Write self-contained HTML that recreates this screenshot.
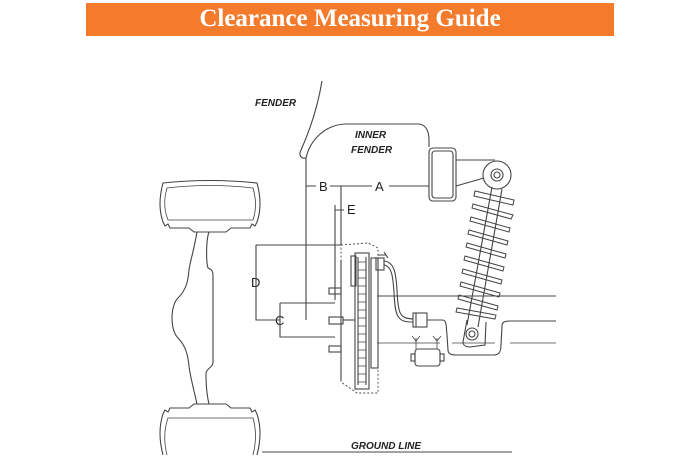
<!DOCTYPE html>
<html><head><meta charset="utf-8"><style>
html,body{margin:0;padding:0;background:#fff;}
body{width:688px;height:459px;overflow:hidden;position:relative;}
.bar{position:absolute;left:86px;top:3px;width:528px;height:33px;background:#f47a2c;color:#fff;font-family:"Liberation Serif",serif;font-weight:bold;font-size:25px;text-align:center;line-height:32px;}
svg{position:absolute;left:0;top:0;}
text{font-family:"Liberation Sans",sans-serif;fill:#222;}
</style></head><body>
<div class="bar">Clearance Measuring Guide</div>
<svg width="688" height="459" viewBox="0 0 688 459" fill="none" stroke="#444" stroke-width="1.1">
<text x="255" y="106" font-size="10" font-style="italic" font-weight="bold" stroke="none">FENDER</text>
<text x="355" y="138" font-size="10" font-style="italic" font-weight="bold" stroke="none">INNER</text>
<text x="351" y="153" font-size="10" font-style="italic" font-weight="bold" stroke="none">FENDER</text>
<text x="351" y="449" font-size="10" font-style="italic" font-weight="bold" stroke="none">GROUND LINE</text>
<text x="319" y="191" font-size="13" stroke="none">B</text>
<text x="375" y="191" font-size="13" stroke="none">A</text>
<text x="347" y="214" font-size="13" stroke="none">E</text>
<text x="251" y="287" font-size="13" stroke="none">D</text>
<text x="275" y="325" font-size="13" stroke="none">C</text>
<path d="M322 81 C318 105 310 130 301 150 C298 156 302 159 306 158"/>
<path d="M306 158 L306 320 M306 158 C310 140 325 125 345 124 L418 124 C425 124 429 130 429 140 L429 147"/>
<path d="M306 186 L316 186 M330 186 L372 186 M389 186 L429 186"/>
<path d="M341 186 L341 245"/>
<path d="M335 205 L335 300 M335 210 L344 210"/>
<rect x="429" y="148" width="27" height="53" rx="4"/>
<rect x="432" y="151" width="21" height="47" rx="3"/>
<path d="M456 160 L495 160 M456 186 L484 178"/>
<circle cx="497" cy="175" r="14"/>
<circle cx="497" cy="175" r="6"/><circle cx="497" cy="175" r="3"/>
<path d="M492 187 L467 325 M502 189 L478 327"/>
<g stroke-width="1">
<path d="M474 196 L513 205 L514 200 L475 191 Z"/>
<path d="M472 208 L511 219 L513 215 L473 204 Z"/>
<path d="M470 221 L509 232 L510 228 L471 217 Z"/>
<path d="M468 234 L507 245 L508 241 L469 230 Z"/>
<path d="M466 247 L505 258 L506 254 L467 243 Z"/>
<path d="M464 260 L503 271 L504 267 L465 256 Z"/>
<path d="M462 273 L501 284 L502 280 L463 269 Z"/>
<path d="M460 286 L499 297 L500 293 L461 282 Z"/>
<path d="M458 299 L497 310 L498 306 L459 295 Z"/>
<path d="M456 312 L495 319 L496 315 L457 308 Z"/>
</g>
<path d="M467 320 L463 342 C463 346 467 347 470 347 L485 345 L486 322"/>
<circle cx="472" cy="334" r="6"/><circle cx="472" cy="334" r="3"/>
<path d="M377 296 L556 296"/>
<path d="M427 320 L442 320 C447 320 446 326 447 335 L448 350 C448 354 452 355 456 355 L494 355 C500 355 501 350 501 345 L502 326 C502 322 505 321 510 321 L556 321"/>
<path d="M377 343 L440 343 M452 343 L495 343 M510 343 L556 343" stroke-width="0.8"/>
<path d="M341 245 L368 243 L378 248 L378 393 L357 393 L341 382 Z" stroke-dasharray="2 2" stroke-width="0.9"/>
<path d="M341 260 L341 380"/>
<rect x="355" y="253" width="14" height="136"/>
<path d="M358 257 L358 385 M366 257 L366 385"/>
<g stroke-width="0.7">
<path d="M358 262 h8 M358 270 h8 M358 278 h8 M358 286 h8 M358 294 h8 M358 302 h8 M358 310 h8 M358 318 h8 M358 326 h8 M358 334 h8 M358 342 h8 M358 350 h8 M358 358 h8 M358 366 h8 M358 374 h8 M358 382 h8"/>
</g>
<rect x="371" y="258" width="7" height="110"/>
<rect x="351" y="256" width="5" height="30"/>
<rect x="376" y="258" width="8" height="12"/>
<path d="M378 255 L386 255 M384 252 L388 258"/>
<rect x="329" y="288" width="12" height="6"/>
<rect x="329" y="317" width="14" height="7"/>
<rect x="329" y="346" width="12" height="6"/>
<path d="M343 320 L355 320"/>
<path d="M384 261 C395 262 396 275 397 290 C398 315 400 318 413 319 M384 265 C392 266 393 278 394 292 C395 318 398 322 413 322"/>
<rect x="413" y="313" width="14" height="14"/>
<path d="M416 313 L416 327"/>
<rect x="415" y="349" width="25" height="17" rx="3"/>
<rect x="411" y="354" width="4" height="7"/><rect x="440" y="354" width="4" height="7"/>
<path d="M416 338 L416 349 M437 338 L437 349 M412 336 L416 341 L420 336 M433 336 L437 341 L441 336" stroke-width="0.8"/>
<path d="M256 245 L341 245 M256 245 L256 320 L280 320"/>
<path d="M280 303 L335 303 M280 303 L280 337 L335 337"/>
<path d="M163 183 Q210 178 257 183 Q263 205 257 222 L255 226 L252 224 L250 228 L231 228 L226 232 L194 232 L189 228 L170 228 L168 224 L165 226 L163 222 Q157 205 163 183 Z"/>
<path d="M167 188 Q210 183 253 188 Q258 205 253 220 L168 220 Q162 205 167 188 Z" stroke-width="0.8"/>
<path d="M163 455 Q157 432 163 414 L165 410 L168 412 L170 408 L189 408 L194 404 L226 404 L231 408 L250 408 L252 412 L255 410 L257 414 Q263 432 257 455"/>
<path d="M167 455 Q162 435 168 418 L253 418 Q258 435 253 455" stroke-width="0.8"/>
<path d="M197 232 C194 250 190 262 189 270 C188 282 186 290 178 298 C170 306 170 330 178 338 C186 346 188 356 189 366 C190 376 194 390 197 404"/>
<path d="M209 232 C206 240 206 262 208 268 C213 270 213 272 213 278 L213 362 C213 368 206 368 206 374 C206 386 207 396 209 404"/>
<path d="M262 452 L512 452"/>
</svg>
</body></html>
